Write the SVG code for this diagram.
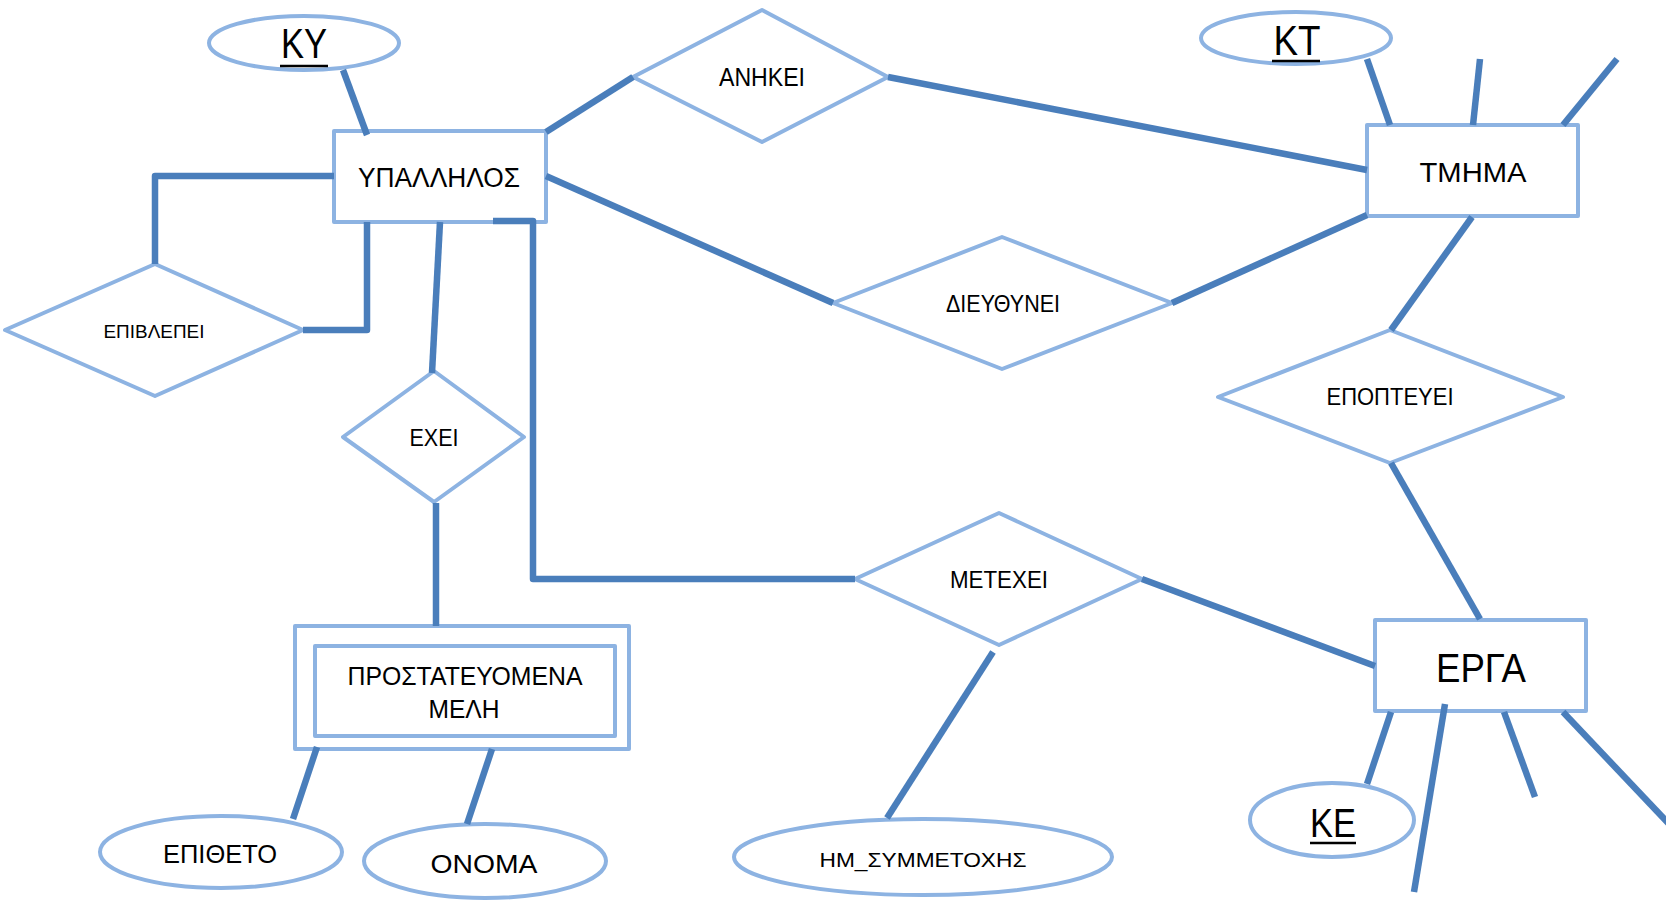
<svg xmlns="http://www.w3.org/2000/svg" width="1666" height="900" viewBox="0 0 1666 900">
<style>
.shape{fill:#fff;stroke:#8DB3E2;stroke-width:4;stroke-linejoin:round}
.c{fill:none;stroke:#4A7EBB;stroke-width:6.5;stroke-linejoin:round}
text{font-family:"Liberation Sans",Arial,sans-serif;fill:#000;text-anchor:middle}
.ul{stroke:#000;stroke-width:2.5}
</style>
<rect width="1666" height="900" fill="#fff"/>
<g id="KY"><ellipse class="shape" cx="304" cy="43" rx="95" ry="27"/><text x="304" y="58" font-size="42" textLength="46" lengthAdjust="spacingAndGlyphs">ΚΥ</text><line class="ul" x1="280" y1="66" x2="328" y2="66"/></g>
<g id="YPALLHLOS"><rect class="shape" x="334" y="131" width="212" height="91"/><text x="439" y="187" font-size="27" textLength="162" lengthAdjust="spacingAndGlyphs">ΥΠΑΛΛΗΛΟΣ</text></g>
<g id="ANHKEI"><polygon class="shape" points="633,77 762,10 888,77 762,142"/><text x="762" y="86" font-size="25" textLength="86" lengthAdjust="spacingAndGlyphs">ΑΝΗΚΕΙ</text></g>
<g id="KT"><ellipse class="shape" cx="1296" cy="38" rx="95" ry="26"/><text x="1297" y="55" font-size="42" textLength="47" lengthAdjust="spacingAndGlyphs">ΚΤ</text><line class="ul" x1="1272" y1="61" x2="1320" y2="61"/></g>
<g id="TMHMA"><rect class="shape" x="1367" y="125" width="211" height="91"/><text x="1473" y="182" font-size="28" textLength="107" lengthAdjust="spacingAndGlyphs">ΤΜΗΜΑ</text></g>
<g id="EPIBLEPEI"><polygon class="shape" points="5,330 155,264 303,330 155,396"/><text x="154" y="338" font-size="19" textLength="101" lengthAdjust="spacingAndGlyphs">ΕΠΙΒΛΕΠΕΙ</text></g>
<g id="DIEYTHYNEI"><polygon class="shape" points="833,303 1002,237 1172,303 1002,369"/><text x="1003" y="312" font-size="24" textLength="114" lengthAdjust="spacingAndGlyphs">ΔΙΕΥΘΥΝΕΙ</text></g>
<g id="EPOPTEYEI"><polygon class="shape" points="1218,397 1390,330 1563,397 1390,463"/><text x="1390" y="405" font-size="24" textLength="127" lengthAdjust="spacingAndGlyphs">ΕΠΟΠΤΕΥΕΙ</text></g>
<g id="EXEI"><polygon class="shape" points="343,437 434,371 524,437 434,502"/><text x="434" y="446" font-size="24" textLength="49" lengthAdjust="spacingAndGlyphs">ΕΧΕΙ</text></g>
<g id="PROSTATEYOMENA"><rect class="shape" x="295" y="626" width="334" height="123"/><rect class="shape" x="315" y="646" width="300" height="90"/><text x="465" y="685" font-size="25" textLength="235" lengthAdjust="spacingAndGlyphs">ΠΡΟΣΤΑΤΕΥΟΜΕΝΑ</text><text x="464" y="718" font-size="25" textLength="71" lengthAdjust="spacingAndGlyphs">ΜΕΛΗ</text></g>
<g id="EPITHETO"><ellipse class="shape" cx="221" cy="852" rx="121" ry="36"/><text x="220" y="863" font-size="26" textLength="114" lengthAdjust="spacingAndGlyphs">ΕΠΙΘΕΤΟ</text></g>
<g id="ONOMA"><ellipse class="shape" cx="485" cy="861" rx="121" ry="37"/><text x="484" y="873" font-size="26" textLength="107" lengthAdjust="spacingAndGlyphs">ΟΝΟΜΑ</text></g>
<g id="METEXEI"><polygon class="shape" points="855,579 999,513 1142,579 999,645"/><text x="999" y="588" font-size="23" textLength="98" lengthAdjust="spacingAndGlyphs">ΜΕΤΕΧΕΙ</text></g>
<g id="HM_SYMMETOXHS"><ellipse class="shape" cx="923" cy="857" rx="189" ry="38"/><text x="923" y="867" font-size="21" textLength="207" lengthAdjust="spacingAndGlyphs">ΗΜ_ΣΥΜΜΕΤΟΧΗΣ</text></g>
<g id="ERGA"><rect class="shape" x="1375" y="620" width="211" height="91"/><text x="1481" y="682" font-size="40" textLength="90" lengthAdjust="spacingAndGlyphs">ΕΡΓΑ</text></g>
<g id="KE"><ellipse class="shape" cx="1332" cy="820" rx="82" ry="37"/><text x="1333" y="837" font-size="40" textLength="46" lengthAdjust="spacingAndGlyphs">ΚΕ</text><line class="ul" x1="1310" y1="843" x2="1356" y2="843"/></g>
<g id="connectors">
<line class="c" x1="343" y1="70" x2="367" y2="135"/>
<line class="c" x1="546" y1="132" x2="633" y2="77"/>
<line class="c" x1="888" y1="77" x2="1367" y2="170"/>
<line class="c" x1="546" y1="176" x2="833" y2="303"/>
<line class="c" x1="1172" y1="303" x2="1367" y2="215"/>
<line class="c" x1="1367" y1="59" x2="1390" y2="125"/>
<line class="c" x1="1480" y1="59" x2="1473" y2="125"/>
<line class="c" x1="1617" y1="59" x2="1563" y2="125"/>
<line class="c" x1="1472" y1="217" x2="1391" y2="330"/>
<line class="c" x1="1391" y1="463" x2="1480" y2="619"/>
<polyline class="c" points="334,176 155,176 155,264"/>
<polyline class="c" points="367,222 367,330 303,330"/>
<line class="c" x1="440" y1="222" x2="432" y2="373"/>
<line class="c" x1="436" y1="503" x2="436" y2="626"/>
<polyline class="c" points="493,221 533,221 533,579 855,579"/>
<line class="c" x1="1142" y1="579" x2="1375" y2="666"/>
<line class="c" x1="993" y1="652" x2="887" y2="818"/>
<line class="c" x1="317" y1="747" x2="293" y2="819"/>
<line class="c" x1="492" y1="749" x2="467" y2="824"/>
<line class="c" x1="1391" y1="712" x2="1367" y2="784"/>
<line class="c" x1="1445" y1="704" x2="1414" y2="892"/>
<line class="c" x1="1504" y1="712" x2="1535" y2="797"/>
<line class="c" x1="1563" y1="712" x2="1670" y2="825"/>
</g>
</svg>
